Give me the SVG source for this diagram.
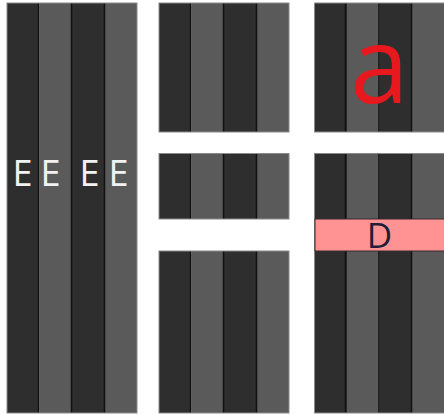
<svg xmlns="http://www.w3.org/2000/svg" width="444" height="414" viewBox="0 0 444 414">
<style>
.d{fill:#2e2e2e}
.l{fill:#5a5a5a}
.div{stroke:#111;stroke-width:1.5}
.frame{fill:none;stroke:#8a8a8a;stroke-width:1}
.e{font-family:"Open Sans","DejaVu Sans",sans-serif;font-size:36px;fill:#f2f2f2;text-anchor:middle}
</style>
<rect width="444" height="414" fill="#fff"/>
<g id="block-left">
<rect class="d" x="7" y="3" width="32.5" height="410"/>
<rect class="l" x="39.5" y="3" width="32.5" height="410"/>
<rect class="d" x="72" y="3" width="32.5" height="410"/>
<rect class="l" x="104.5" y="3" width="32.5" height="410"/>
<line class="div" x1="38.5" y1="3" x2="38.5" y2="413"/>
<line class="div" x1="71.5" y1="3" x2="71.5" y2="413"/>
<line class="div" x1="104.5" y1="3" x2="104.5" y2="413"/>
<rect class="frame" x="7" y="3" width="130" height="410"/>
<text class="e" x="22.5" y="185.5">E</text>
<text class="e" x="50.5" y="185.5">E</text>
<text class="e" x="89.5" y="185.5">E</text>
<text class="e" x="118.5" y="185.5">E</text>
</g>
<g id="block-mid-top">
<rect class="d" x="159" y="3" width="32.5" height="129"/>
<rect class="l" x="191.5" y="3" width="32.5" height="129"/>
<rect class="d" x="224" y="3" width="32.5" height="129"/>
<rect class="l" x="256.5" y="3" width="32.5" height="129"/>
<line class="div" x1="190.5" y1="3" x2="190.5" y2="132"/>
<line class="div" x1="223.5" y1="3" x2="223.5" y2="132"/>
<line class="div" x1="256.5" y1="3" x2="256.5" y2="132"/>
<rect class="frame" x="159" y="3" width="130" height="129"/>
</g>
<g id="block-mid-middle">
<rect class="d" x="159" y="153.5" width="32.5" height="65.5"/>
<rect class="l" x="191.5" y="153.5" width="32.5" height="65.5"/>
<rect class="d" x="224" y="153.5" width="32.5" height="65.5"/>
<rect class="l" x="256.5" y="153.5" width="32.5" height="65.5"/>
<line class="div" x1="190.5" y1="153.5" x2="190.5" y2="219"/>
<line class="div" x1="223.5" y1="153.5" x2="223.5" y2="219"/>
<line class="div" x1="256.5" y1="153.5" x2="256.5" y2="219"/>
<rect class="frame" x="159" y="153.5" width="130" height="65.5"/>
</g>
<g id="block-mid-bottom">
<rect class="d" x="159" y="251" width="32.5" height="162"/>
<rect class="l" x="191.5" y="251" width="32.5" height="162"/>
<rect class="d" x="224" y="251" width="32.5" height="162"/>
<rect class="l" x="256.5" y="251" width="32.5" height="162"/>
<line class="div" x1="190.5" y1="251" x2="190.5" y2="413"/>
<line class="div" x1="223.5" y1="251" x2="223.5" y2="413"/>
<line class="div" x1="256.5" y1="251" x2="256.5" y2="413"/>
<rect class="frame" x="159" y="251" width="130" height="162"/>
</g>
<g id="block-right-top">
<rect class="d" x="314.5" y="3" width="32.5" height="129"/>
<rect class="l" x="347" y="3" width="32.5" height="129"/>
<rect class="d" x="379.5" y="3" width="32.5" height="129"/>
<rect class="l" x="412" y="3" width="33" height="129"/>
<line class="div" x1="345.5" y1="3" x2="345.5" y2="132"/>
<line class="div" x1="379" y1="3" x2="379" y2="132"/>
<line class="div" x1="411.5" y1="3" x2="411.5" y2="132"/>
<rect class="frame" x="314.5" y="3" width="140" height="129"/>
<text x="379.5" y="103" font-family="'Open Sans','DejaVu Sans',sans-serif" font-size="106" fill="#e8191e" text-anchor="middle">a</text>
</g>
<g id="block-right-bottom">
<rect class="d" x="314.5" y="153.5" width="32.5" height="259.5"/>
<rect class="l" x="347" y="153.5" width="32.5" height="259.5"/>
<rect class="d" x="379.5" y="153.5" width="32.5" height="259.5"/>
<rect class="l" x="412" y="153.5" width="33" height="259.5"/>
<line class="div" x1="345.5" y1="153.5" x2="345.5" y2="413"/>
<line class="div" x1="379" y1="153.5" x2="379" y2="413"/>
<line class="div" x1="411.5" y1="153.5" x2="411.5" y2="413"/>
<rect class="frame" x="314.5" y="153.5" width="140" height="259.5"/>
</g>
<g id="band-D">
<rect x="315" y="219" width="140" height="32" fill="#ff9393" stroke="#3a2a2a" stroke-width="1"/>
<text x="379.5" y="248" font-family="'Open Sans','DejaVu Sans',sans-serif" font-size="35" fill="#1e1e3a" text-anchor="middle">D</text>
</g>
</svg>
